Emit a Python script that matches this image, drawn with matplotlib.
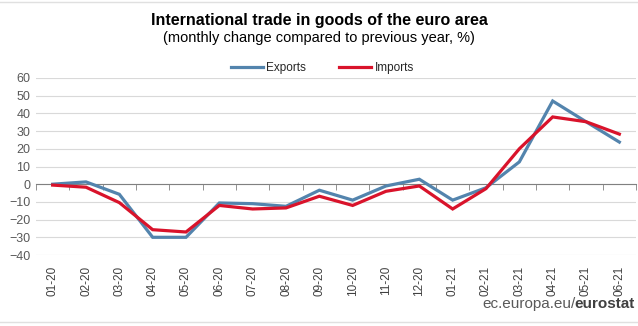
import numpy as np
import matplotlib.pyplot as plt

months = ["01-20", "02-20", "03-20", "04-20", "05-20", "06-20", "07-20", "08-20", "09-20",
          "10-20", "11-20", "12-20", "01-21", "02-21", "03-21", "04-21", "05-21", "06-21"]
exports = [0, 1.3, -5.7, -30, -30, -10.6, -11, -12.5, -3.4,
           -9, -1, 2.8, -9, -2, 12.6, 47, 35.3, 23.8]
imports = [-0.5, -1.7, -10.4, -25.7, -27, -12, -14, -13.4, -6.8,
           -12, -4, -1, -14, -2.5, 20, 38, 35.3, 28.3]
yticks = [-40, -30, -20, -10, 0, 10, 20, 30, 40, 50, 60]

plt.rcParams['font.family'] = ['Liberation Sans', 'DejaVu Sans']

fig = plt.figure(figsize=(6.38, 3.26), dpi=100)
ax = fig.add_axes([36/638, 1 - 255/326, 600/638, 177/326])

x = np.arange(len(months))
ax.plot(x, exports, color='#5384ad', lw=2.3, label='Exports', solid_joinstyle='miter')
ax.plot(x, imports, color='#d9132b', lw=2.3, label='Imports', solid_joinstyle='miter')

ax.set_xlim(-0.5, len(months) - 0.5)
ax.set_ylim(-40, 60)
ax.set_yticks(yticks)
ax.grid(axis='y', color='#d9d9d9', lw=0.8)
ax.set_axisbelow(True)
for s in ['top', 'right', 'left']:
    ax.spines[s].set_visible(False)
ax.spines['bottom'].set_position(('data', 0))
ax.spines['bottom'].set_color('#808080')
ax.spines['bottom'].set_zorder(1)
ax.set_xticks([])
ax.set_xticks(np.arange(-0.5, len(months)), minor=True)
ax.tick_params(axis='x', which='minor', length=4, color='#808080', direction='out')
ax.tick_params(axis='y', length=0, labelsize=9, labelcolor='#595959', pad=4)

sec = ax.secondary_xaxis(0)
sec.set_xticks(x, months, rotation=90)
sec.tick_params(length=0, labelsize=8.5, labelcolor='#404040', pad=8)
for s in sec.spines.values():
    s.set_visible(False)

fig.text(0.5, 1 - 20/326, 'International trade in goods of the euro area',
         ha='center', va='center', fontsize=11.5, fontweight='bold')
fig.text(0.5, 1 - 38/326, '(monthly change compared to previous year, %)',
         ha='center', va='center', fontsize=10.5)
fig.legend(loc='center', bbox_to_anchor=(0.505, 1 - 68/326), ncol=2, frameon=False,
           fontsize=8.5, handlelength=2.7, handletextpad=0.3, columnspacing=2.8,
           labelcolor='#262626')

fig.text(576/638, 1 - 304/326, 'ec.europa.eu/', ha='right', va='center',
         fontsize=11, color='#595959')
fig.text(574/638, 1 - 304/326, 'eurostat', ha='left', va='center',
         fontsize=11, color='#404040', fontweight='bold')

fig.add_artist(plt.Line2D([0, 1], [1 - 1.5/326] * 2, color='#e0e0e0', lw=1))
fig.add_artist(plt.Line2D([0, 1], [1 - 322/326] * 2, color='#e0e0e0', lw=1))

fig.savefig('out.png', dpi=100)
